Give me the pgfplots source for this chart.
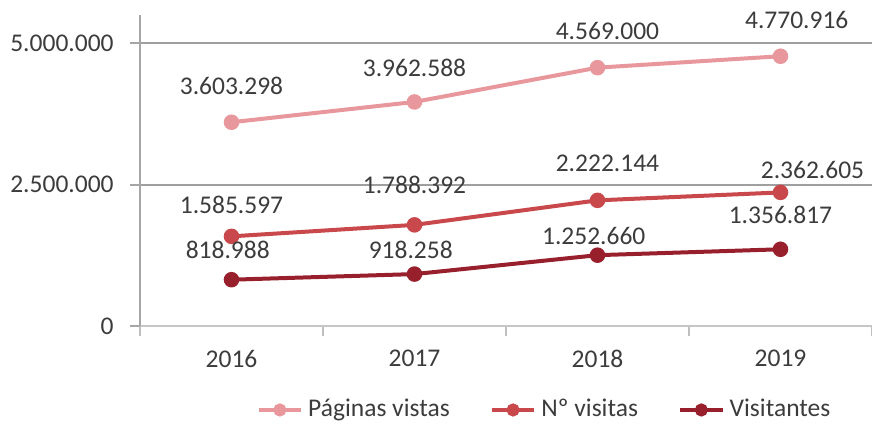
\documentclass[border=0pt]{standalone}
\usepackage{pgfplots}
\pgfplotsset{compat=1.18}
\usepackage{fontspec}
\setmainfont{Carlito}
\definecolor{pv}{RGB}{232,152,156}
\definecolor{nv}{RGB}{200,72,76}
\definecolor{vi}{RGB}{152,32,44}
\definecolor{txt}{RGB}{60,60,60}
\pgfplotstableread{
x y lab dx dy
0 3603298 3.603.298 0 14.4
1 3962588 3.962.588 0 13.6
2 4569000 4.569.000 4 14.8
3 4770916 4.770.916 6.5 14.4
}\pv
\pgfplotstableread{
x y lab dx dy
0 1585597 1.585.597 0 12.4
1 1788392 1.788.392 0 16
2 2222144 2.222.144 4 14.8
3 2362605 2.362.605 12.8 8.8
}\nv
\pgfplotstableread{
x y lab dx dy
0 818988 818.988 -1.5 12
1 918258 918.258 -1.5 9.6
2 1252660 1.252.660 -1.5 7.6
3 1356817 1.356.817 0 13.6
}\vi
\begin{document}
\begin{tikzpicture}
\begin{axis}[
  scale only axis, width=292.8pt, height=124.4pt,
  xmin=-0.5, xmax=3.5, ymin=0, ymax=5500000,
  clip=false,
  axis lines*=left,
  x axis line style={draw=gray!45, line width=0.8pt},
  y axis line style={draw=gray!70, line width=0.8pt},
  xtick={0,1,2,3}, xticklabels={2016,2017,2018,2019},
  minor xtick={-0.5,0.5,1.5,2.5,3.5},
  major x tick style={draw=none},
  minor x tick style={draw=gray!50, line width=0.8pt},
  minor tick length=4pt,
  ytick={2500000,5000000}, yticklabels={2.500.000,5.000.000},
  extra y ticks={0}, extra y tick labels={0},
  extra y tick style={grid=none},
  ymajorgrids, grid style={draw=gray!75, line width=0.8pt},
  major y tick style={draw=gray!70, line width=0.8pt},
  major tick length=4pt,
  tick align=outside,
  every tick label/.append style={font=\fontsize{10.2}{12}\selectfont, text=txt},
  xticklabel style={yshift=-2pt},
  yticklabel style={xshift=-3pt},
  scaled y ticks=false,
  legend columns=3,
  legend style={draw=none, fill=none, at={(0.5546,-0.27)}, anchor=center,
    font=\fontsize{10.2}{12}\selectfont, text=txt,
    /tikz/every even column/.append style={column sep=14pt}},
  legend image post style={mark size=1.8pt},
  legend cell align=left,
  point meta=explicit symbolic,
  nodes near coords,
  visualization depends on={\thisrow{dx} \as \dx},
  visualization depends on={\thisrow{dy} \as \dy},
  every node near coord/.append style={anchor=center, xshift=\dx pt, yshift=\dy pt,
    font=\fontsize{10.2}{12}\selectfont, text=txt},
]
\addplot[pv, line width=1.6pt, mark=*, mark size=2.3pt] table[x=x,y=y,meta=lab] {\pv};
\addlegendentry{Páginas vistas}
\addplot[nv, line width=1.6pt, mark=*, mark size=2.3pt] table[x=x,y=y,meta=lab] {\nv};
\addlegendentry{Nº visitas}
\addplot[vi, line width=1.6pt, mark=*, mark size=2.3pt] table[x=x,y=y,meta=lab] {\vi};
\addlegendentry{Visitantes}
\end{axis}
\pgfresetboundingbox
\path (-56pt,-41.6pt) rectangle (292.8pt,130.4pt);
\end{tikzpicture}
\end{document}
